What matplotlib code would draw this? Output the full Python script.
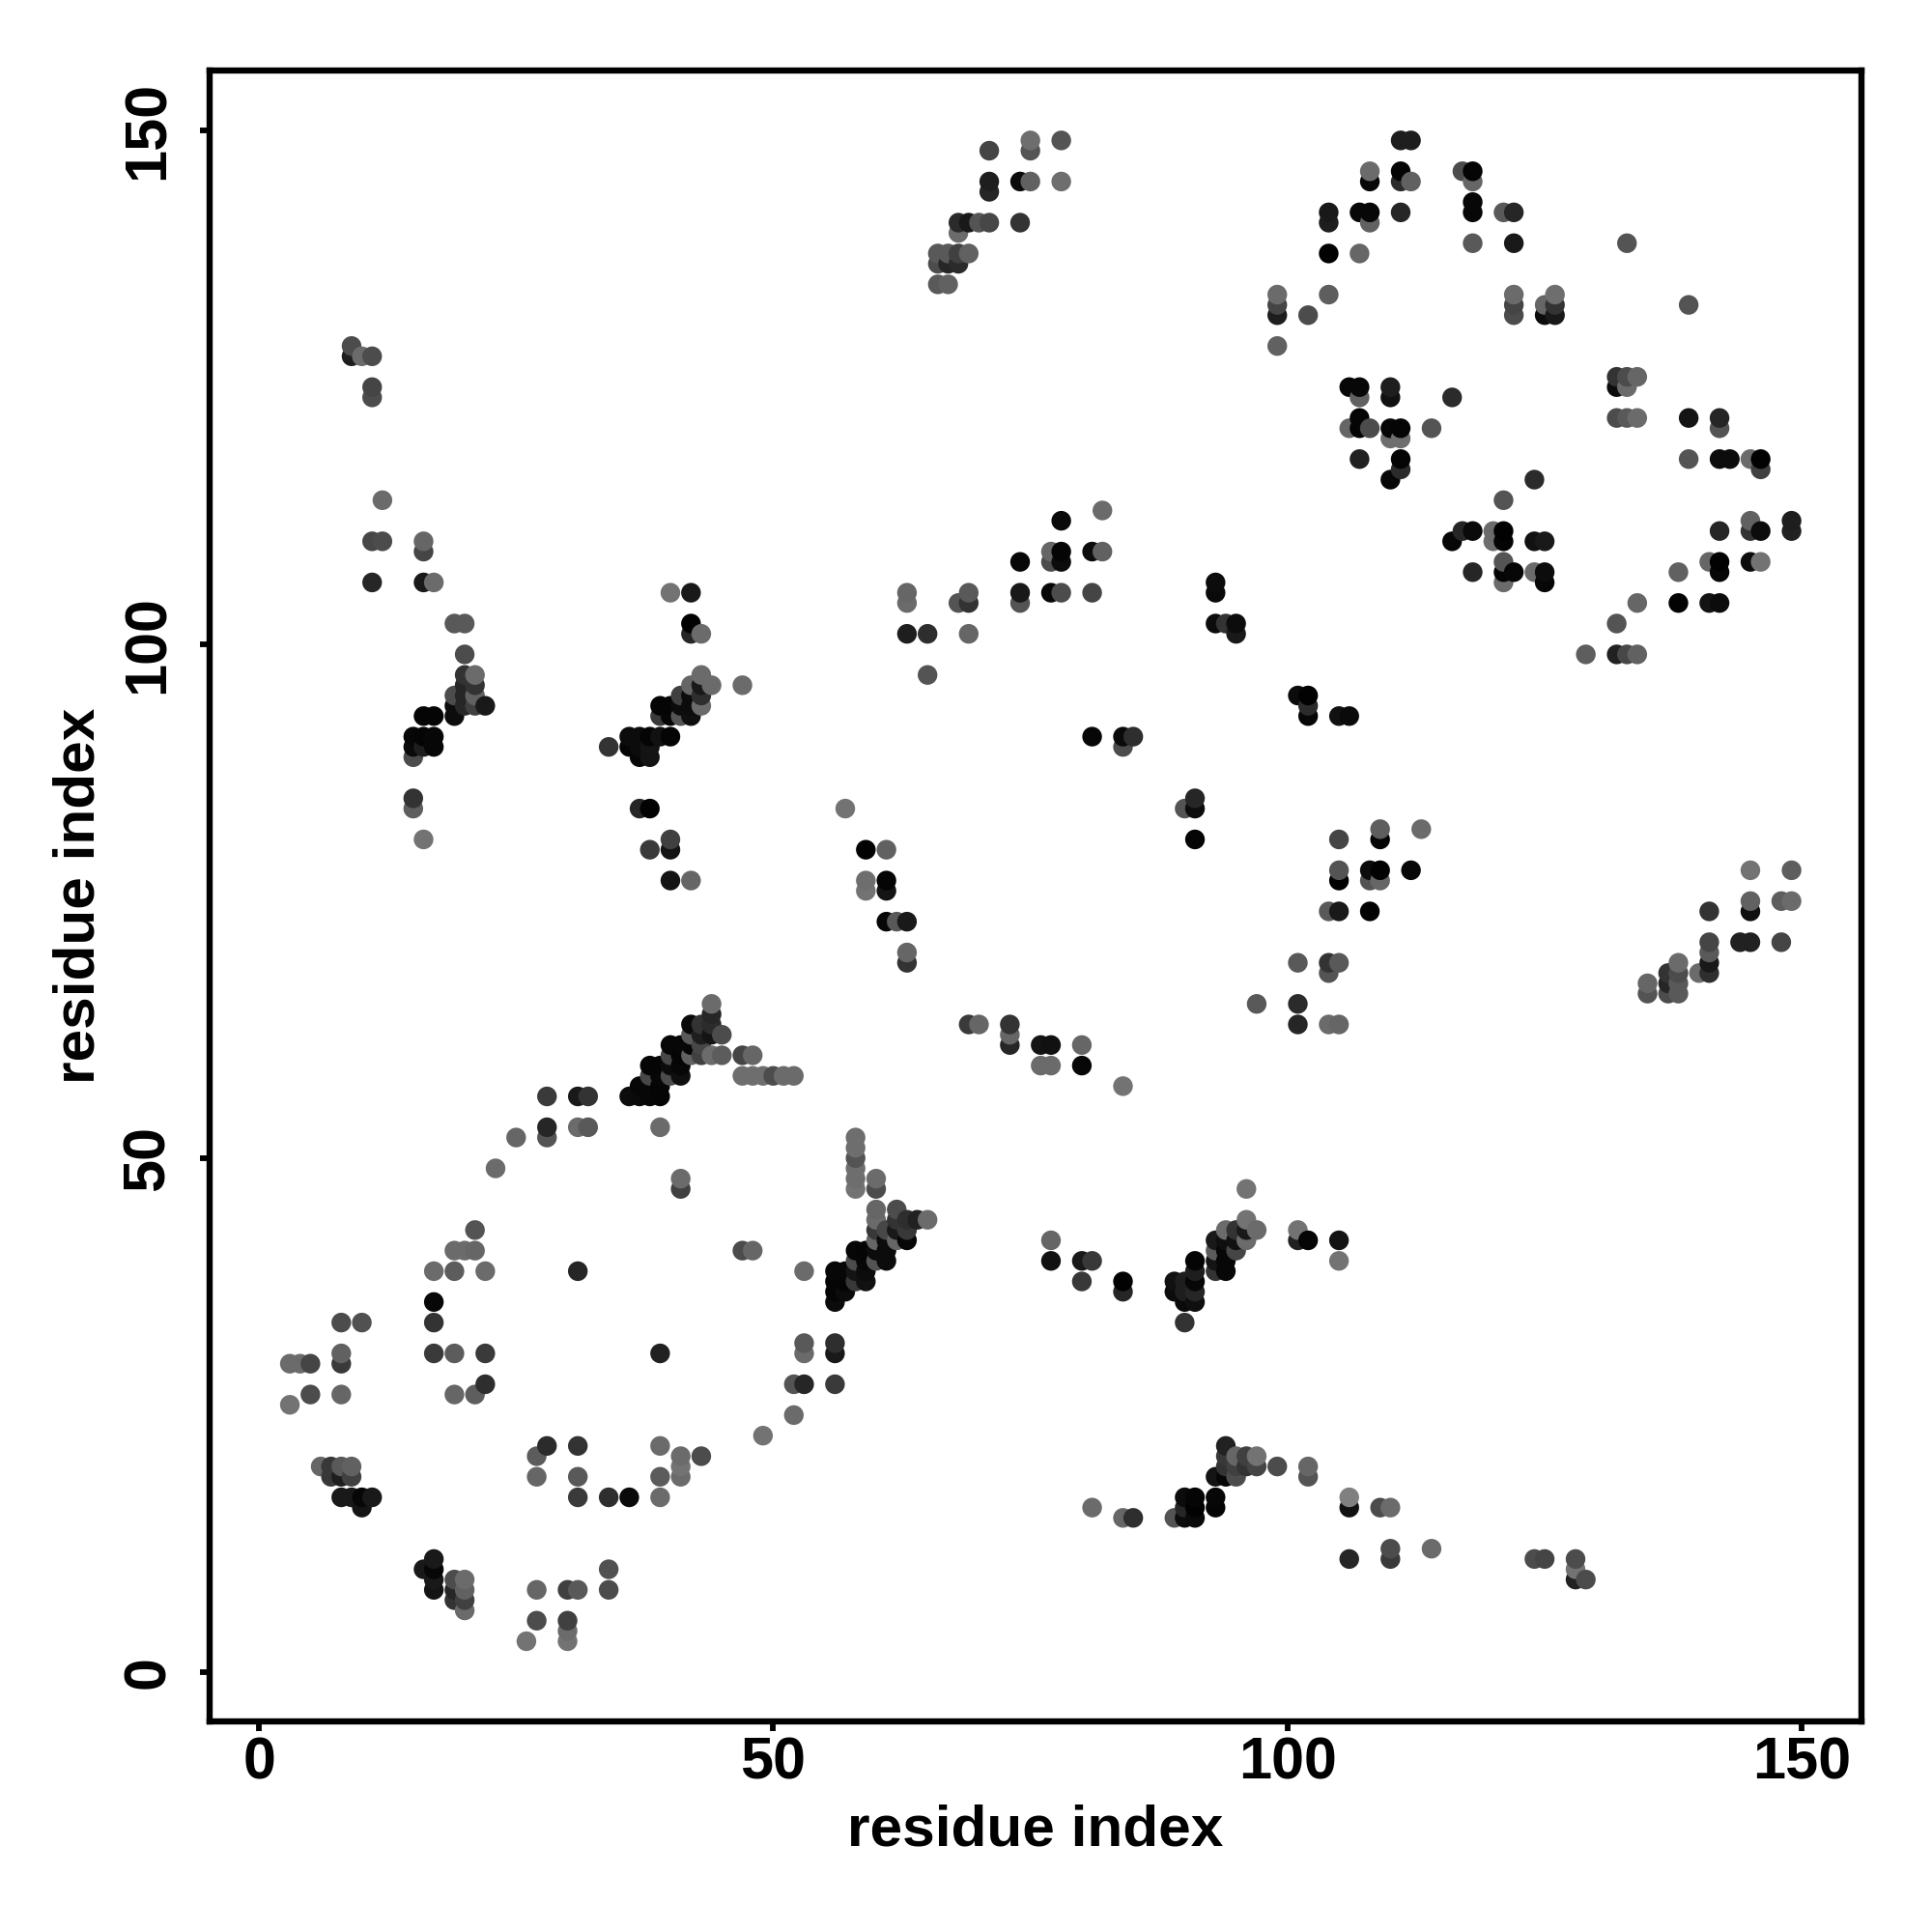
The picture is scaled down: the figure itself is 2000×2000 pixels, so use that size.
import numpy as np
import matplotlib
matplotlib.use("Agg")
import matplotlib.pyplot as plt

plt.rcParams['font.family'] = ['Liberation Sans', 'DejaVu Sans']

# lower-left block
x1 = [21,19,20,21,17,19,22,31,17,17,8,10,17,19,22,39,8,8,3,4,5,22,5,8,19,21,3,
      6,7,8,9,7,8,9,8,9,10,11,10,28,27,31,39,41,43,41,41,39,27,31,31,34,36,39,
      34,34,27,30,31,27,30,30,30,26,17,16,17,17,17,19,20,19,20,19,20,20]
y1 = [43,41,41,41,39,39,39,39,36,34,34,34,31,31,31,31,31,30,30,30,30,28,27,27,27,27,26,
      20,20,20,20,19,19,19,17,17,17,17,16,22,21,22,22,21,21,20,19,19,19,19,17,17,17,17,
      10,8,8,8,8,5,5,4,3,3,11,10,10,9,8,9,9,8,8,7,7,6]
s1 = [.33,.42,.42,.40,.42,.36,.42,.15,.03,.2,.3,.32,.23,.36,.23,.13,.38,.23,.42,.42,.27,.18,.3,.4,.4,.37,.45,
      .4,.22,.35,.38,.22,.12,.25,.1,.1,.03,.1,.08,.17,.36,.2,.42,.42,.3,.45,.42,.36,.4,.35,.23,.18,.04,.42,
      .32,.3,.4,.25,.35,.3,.25,.42,.45,.45,.1,.1,.03,.1,.08,.3,.42,.15,.38,.2,.25,.42]

# helix block around (40, 60)
x2 = [44,44,42,43,44,45,42,43,44,40,41,42,43,40,41,42,43,44,45,47,48,38,39,40,41,38,39,40,41,
      47,48,49,50,51,52,37,38,39,36,37,38,39,28,31,32,28,31,32,39,28,25,23,41,41]
y2 = [65,64,63,63,63,62,62,62,62,61,61,61,61,60,60,60,60,60,60,60,60,59,59,59,59,58,58,58,58,
      58,58,58,58,58,58,57,57,57,56,56,56,56,56,56,56,53,53,53,53,52,52,49,48,47]
s2 = [.42,.15,.04,.2,.17,.3,.35,.12,.08,.03,.03,.03,.28,.28,.02,.38,.25,.42,.36,.27,.4,.02,.02,.05,.03,.28,.03,.3,.06,
      .43,.43,.43,.3,.42,.42,.03,.03,.02,.05,.04,.03,.02,.23,.1,.2,.15,.42,.35,.42,.33,.4,.42,.42,.25]

# helix block around (60, 40)
x3 = [58,58,58,58,58,58,60,60,60,60,60,60,62,62,63,64,65,62,63,61,62,63,61,58,59,60,61,47,48,53,
      58,59,60,61,56,57,58,59,56,57,58,59,56,57,56,53,53,56,56,52,53,56,52,49,77,77,80,81,80,84,84,81]
y3 = [52,51,50,49,48,47,48,47,45,44,43,42,45,44,44,44,44,43,43,43,42,42,42,41,41,41,41,41,41,39,
      40,40,40,40,39,39,39,39,38,38,38,38,37,37,36,32,31,32,31,28,28,28,25,23,42,40,40,40,38,38,37,16]
s3 = [.43,.43,.33,.43,.43,.45,.42,.3,.4,.42,.22,.4,.3,.2,.18,.13,.42,.1,.22,.28,.4,.03,.05,.03,.02,.05,.05,.3,.4,.42,
      .3,.03,.33,.05,.03,.03,.08,.05,.02,.02,.22,.07,.02,.05,.05,.35,.42,.18,.1,.33,.15,.23,.42,.45,.4,.07,.1,.22,.22,.01,.15,.42]

# block around (95, 40) and (95, 20)
x4 = [96,96,97,94,95,96,96,95,94,93,95,94,93,93,94,93,94,91,91,91,91,91,89,90,89,90,90,90,
      101,101,102,105,105,94,94,95,96,97,94,95,96,97,99,102,93,94,95,102,
      90,91,93,90,91,93,90,91,89,84,85,106,106,109,110,106,110,110,114,124,125,128,128,128,129]
y4 = [47,44,43,43,43,43,42,42,42,42,41,41,41,40,40,39,39,40,39,38,37,36,38,38,37,37,36,34,
      43,42,42,42,40,22,21,21,21,21,20,20,20,20,20,20,19,19,19,19,
      17,17,17,16,16,16,15,15,15,15,15,17,16,16,16,11,12,11,12,11,11,11,10,9,9]
s4 = [.45,.45,.42,.42,.2,.1,.42,.07,.06,.1,.27,.03,.36,.08,.03,.2,.03,.02,.12,.03,.15,.06,.07,.12,.05,.12,.04,.2,
      .45,.13,.02,.08,.45,.13,.22,.4,.25,.45,.2,.25,.2,.27,.3,.4,.08,.03,.3,.33,
      .05,.02,.03,.15,.01,.02,.05,.04,.33,.4,.18,.5,.07,.3,.42,.15,.3,.23,.42,.3,.27,.3,.45,.13,.3]

# upper-left block
x5 = [9,9,10,11,11,11,12,11,12,16,16,11,16,17,19,20,20,20,21,20,21,19,20,21,19,20,21,22,19,16,17,
      15,16,17,15,16,17,15,15,15,16]
y5 = [129,128,128,128,125,124,114,110,110,110,109,106,106,106,102,102,99,97,97,96,96,95,95,95,94,94,94,94,93,93,93,
      91,91,91,90,90,90,89,85,84,81]
s5 = [.3,.12,.42,.3,.27,.3,.42,.28,.3,.4,.27,.15,.1,.42,.35,.35,.3,.2,.42,.15,.2,.3,.15,.38,.05,.15,.25,.1,.05,.02,.02,
      .03,.02,.03,.04,.12,.03,.3,.2,.37,.45]

# block around (40, 95)
x6 = [40,42,42,42,43,43,44,47,42,43,41,42,43,39,40,41,42,43,39,40,41,42,36,37,38,39,40,36,37,38,34,37,38,
      37,38,40,40,38,40,42,57,59,61,59,59,61,61,61,62,63,63,63,63,65,65,68,69,69,69,63,63]
y6 = [105,105,102,101,101,97,96,96,96,96,95,95,95,94,94,94,94,94,93,93,93,93,91,91,91,91,91,90,90,90,90,89,89,
      84,84,81,80,80,77,77,84,80,80,77,76,77,76,73,73,73,105,104,101,101,97,104,105,104,101,70,69]
s6 = [.45,.1,.01,.15,.42,.42,.42,.42,.4,.1,.25,.05,.18,.02,.02,.05,.05,.42,.23,.03,.33,.06,.05,.05,.02,.07,.02,.02,.05,.08,.2,.03,.08,
      .15,.01,.25,.08,.23,.08,.4,.45,.01,.38,.43,.45,.02,.08,.03,.35,.1,.4,.42,.12,.18,.33,.33,.35,.2,.4,.4,.2]

# block around (75, 60)
x7 = [69,70,73,73,73,76,77,80,76,77,80,84]
y7 = [63,63,63,62,61,61,61,61,59,59,59,57]
s7 = [.23,.4,.2,.4,.15,.08,.07,.4,.42,.42,.03,.45]

# top-middle block
x8 = [75,75,78,71,71,71,74,75,78,68,69,70,71,74,68,66,67,68,69,66,67,68,66,67,
      82,78,77,78,77,78,74,81,82,74,74,77,78,81,93,93,93,94,95,95]
y8 = [149,148,149,148,145,144,145,145,145,141,141,141,141,141,140,138,138,138,138,137,137,137,135,135,
      113,112,109,109,108,108,108,109,109,105,104,105,105,105,106,105,102,102,102,101]
s8 = [.43,.33,.33,.27,.12,.15,.05,.38,.43,.17,.1,.33,.28,.2,.42,.35,.35,.25,.38,.3,.15,.17,.35,.38,
      .42,.04,.4,.02,.3,.05,.03,.05,.38,.1,.33,.03,.3,.27,.05,.04,.05,.2,.05,.1]

# top-right block
x9 = [111,112,108,108,111,111,112,117,118,118,118,118,121,122,118,122,104,104,107,108,108,111,104,107,
      99,99,99,102,104,99,122,122,122,125,126,126,125,126,106,107,107,110,110,116,107,106,107,108,110,111,110,111,114,
      107,111,111,110,124,121]
y9 = [149,149,146,145,146,145,145,146,146,145,143,142,142,142,139,139,142,141,142,142,141,142,138,138,
      134,133,132,132,134,129,134,133,132,133,134,133,132,132,125,125,124,125,124,124,122,121,121,121,121,121,120,120,121,
      118,118,117,116,116,114]
s9 = [.12,.12,.42,.03,.02,.17,.38,.3,.02,.4,.03,.03,.35,.15,.35,.1,.1,.12,.03,.03,.38,.15,.01,.4,
      .42,.27,.12,.3,.37,.38,.42,.27,.3,.4,.43,.2,.05,.1,.03,.03,.38,.12,.07,.17,.02,.4,.02,.3,.03,.02,.43,.43,.33,
      .13,.02,.17,.03,.17,.33]

# far-right top block
x10 = [133,139,132,133,134,132,133,132,133,134,139,142,142,139,142,143,145,146,146]
y10 = [139,133,126,126,126,125,125,122,122,122,122,122,121,118,118,118,118,118,117]
s10 = [.33,.33,.2,.3,.4,.05,.42,.3,.35,.42,.08,.15,.33,.33,.05,.05,.42,.01,.25]

# right block around y = 110
x11 = [117,118,120,121,142,145,145,146,149,149,116,120,121,124,125,121,141,142,145,146,
       118,121,122,124,125,138,142,121,125,134,138,141,142,132,129,132,133,134]
y11 = [111,111,111,111,111,112,111,111,112,111,110,110,110,110,110,108,108,108,108,108,
       107,107,107,107,107,107,107,106,106,104,104,104,104,102,99,99,99,99]
s11 = [.15,.04,.42,.01,.15,.38,.2,.05,.12,.13,.03,.43,.02,.07,.1,.33,.4,.01,.05,.45,
       .15,.02,.03,.42,.05,.38,.03,.42,.03,.4,.01,.08,.05,.33,.37,.13,.28,.38]

# middle block
x12 = [101,102,102,102,105,106,81,84,85,84,91,90,91,91,105,109,109,113,105,105,108,109,108,109,112,
       104,105,108,101,104,105,104,97,101,101,104,105]
y12 = [95,95,94,93,93,93,91,91,91,90,85,84,84,81,81,82,81,82,78,77,78,78,77,77,78,
       74,74,74,69,69,69,68,65,65,63,63,63]
s12 = [.05,.01,.17,.03,.07,.04,.03,.04,.18,.3,.15,.33,.05,.02,.27,.37,.02,.42,.33,.01,.05,.01,.33,.4,.03,
       .35,.1,.01,.35,.2,.35,.33,.35,.17,.15,.42,.4]

# lower-right block
x13 = [145,149,145,145,148,149,141,141,141,141,141,140,144,145,148,138,137,138,137,138,137,138,135,135]
y13 = [78,78,75,74,75,75,74,71,70,69,68,68,71,71,71,69,68,68,67,67,66,66,67,66]
s13 = [.45,.37,.38,.06,.37,.42,.2,.27,.35,.1,.18,.42,.13,.13,.27,.42,.2,.3,.15,.35,.3,.35,.4,.33]

xs_all = [x1, x2, x3, x4, x5, x6, x7, x8, x9, x10, x11, x12, x13]
ys_all = [y1, y2, y3, y4, y5, y6, y7, y8, y9, y10, y11, y12, y13]
ss_all = [s1, s2, s3, s4, s5, s6, s7, s8, s9, s10, s11, s12, s13]

for a, b, c in zip(xs_all, ys_all, ss_all):
    assert len(a) == len(b) == len(c), (len(a), len(b), len(c))

x = np.concatenate(xs_all)
y = np.concatenate(ys_all)
s = np.concatenate(ss_all)
order = np.lexsort((y, x))

tick_values = [0, 50, 100, 150]
axis_label = "residue index"

fig = plt.figure(figsize=(20, 20), dpi=100)
ax = fig.add_axes([217/2000, 1 - 1782/2000, (1927-217)/2000, (1782-73)/2000])
ax.scatter(x[order], y[order], c=s[order], cmap='gray', vmin=0, vmax=1,
           s=215, linewidths=0, clip_on=True)
ax.set_xlim(-4.8, 155.8)
ax.set_ylim(-4.8, 155.8)
ax.set_xticks(tick_values)
ax.set_yticks(tick_values)
ax.tick_params(axis='both', length=7.5, width=4.2, direction='out', labelsize=44)
ax.tick_params(axis='x', pad=4)
ax.tick_params(axis='y', pad=17)
for t in ax.get_xticklabels():
    t.set_fontweight('bold')
for t in ax.get_yticklabels():
    t.set_fontweight('bold')
    t.set_rotation(90)
    t.set_verticalalignment('center')
for sp in ax.spines.values():
    sp.set_linewidth(4.6)
fig.text(1072/2000, 1 - 1895/2000, axis_label, fontsize=43.5, fontweight='bold', ha='center', va='center')
fig.text(82/2000, 1 - 927/2000, axis_label, fontsize=43.5, fontweight='bold', ha='center', va='center', rotation=90)
fig.savefig("out.png", dpi=100)
